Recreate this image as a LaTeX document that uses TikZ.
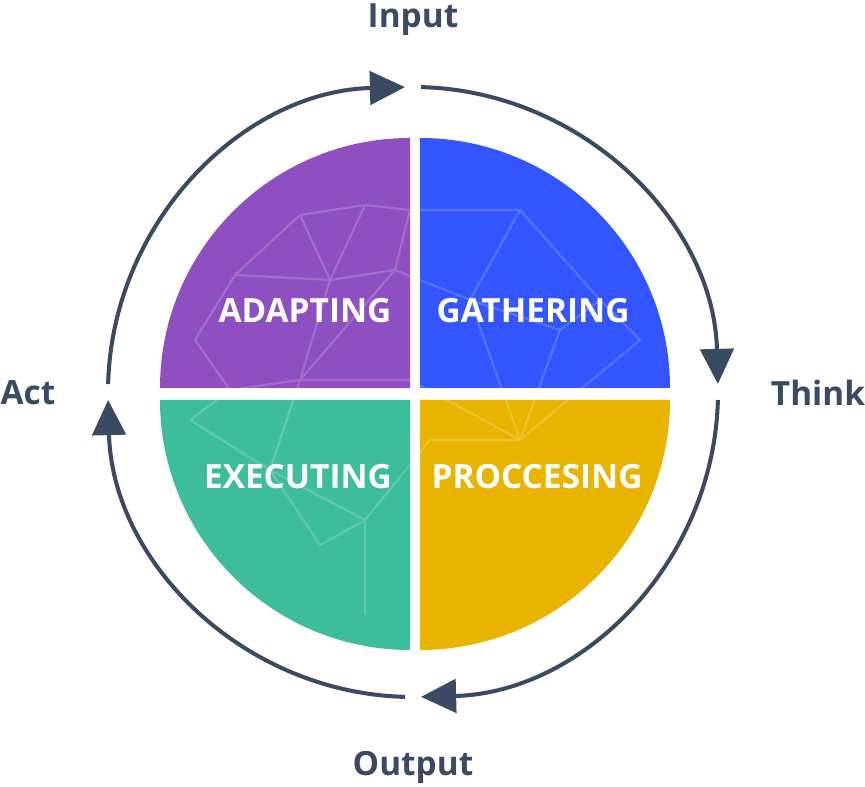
\documentclass[tikz,border=0pt]{standalone}
\usepackage{fontspec}
\setmainfont{Open Sans}
\usetikzlibrary{arrows.meta,calc}
\definecolor{slate}{HTML}{3B4A63}
\definecolor{adapt}{HTML}{8E4FC1}
\definecolor{gather}{HTML}{3355FF}
\definecolor{execc}{HTML}{3DBD9A}
\definecolor{procc}{HTML}{E8B400}
\tikzset{
  quad/.style={draw=none},
  qlabel/.style={text=white, font=\fontsize{19}{22}\selectfont\bfseries},
  side/.style={text=slate, font=\fontsize{19}{22}\selectfont\bfseries},
  ring/.style={draw=slate, line width=2.3pt, -{Triangle[length=20pt,width=19pt]}},
  mesh/.style={draw=white, opacity=0.18, line width=1.2pt}
}
\begin{document}
\begin{tikzpicture}[x=0.02cm,y=0.02cm]
\useasboundingbox (0,0) rectangle (865,787);
% quadrants
\fill[quad, gather] (420,399) -- ++(250,0) arc[start angle=0,end angle=90,radius=250] -- cycle;
\fill[quad, adapt] (410,399) -- ++(0,250) arc[start angle=90,end angle=180,radius=250] -- cycle;
\fill[quad, execc] (410,387) -- ++(-250,0) arc[start angle=180,end angle=270,radius=250] -- cycle;
\fill[quad, procc] (420,387) -- ++(0,-250) arc[start angle=270,end angle=360,radius=250] -- cycle;
% faint mesh
\draw[mesh] (235,512) -- (300,572) -- (365,582) -- (410,577) -- (520,577) -- (600,487) -- (640,447)
  (235,512) -- (330,507) -- (395,517) -- (470,487) -- (520,577)
  (300,572) -- (330,507) -- (365,582) (395,517) -- (410,577)
  (195,447) -- (235,512) (195,447) -- (230,397) -- (300,407) -- (410,407) -- (520,347) -- (560,457) -- (600,487)
  (300,407) -- (330,507) (300,407) -- (395,517) (470,487) -- (520,347) -- (640,447)
  (190,367) -- (230,397) (190,367) -- (270,317) -- (365,267) -- (320,242) -- (270,317)
  (365,267) -- (365,172) (365,267) -- (430,347) -- (520,347) (270,317) -- (300,407)
  (560,457) -- (470,487);
% labels
\node[qlabel] (adapting) at (305,476) {ADAPTING};
\node[qlabel] (gathering) at (533,476) {GATHERING};
\node[qlabel] (executing) at (298,310) {EXECUTING};
\node[qlabel] (proccesing) at (537,310) {PROCCESING};
% side labels
\node[side] (input) at (413,767) {Input};
\node[side] (think) at (818,394) {Think};
\node[side] (output) at (413,20) {Output};
\node[side] (act) at (28,394) {Act};
% ring
\coordinate (c) at (413,395);
\draw[ring] ($(c)+(178.5:305)$) arc[start angle=178.5,end angle=91.5,radius=305];
\draw[ring] ($(c)+(88.5:305)$) arc[start angle=88.5,end angle=1.5,radius=305];
\draw[ring] ($(c)+(-1.5:305)$) arc[start angle=-1.5,end angle=-88.5,radius=305];
\draw[ring] ($(c)+(-91.5:305)$) arc[start angle=-91.5,end angle=-178.5,radius=305];
\end{tikzpicture}
\end{document}
